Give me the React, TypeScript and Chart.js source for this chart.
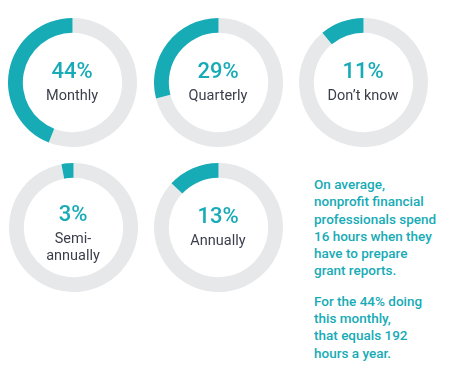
import React, { useEffect, useRef } from "react";
import { Chart, registerables } from "chart.js";

Chart.register(...registerables);

const categories = ["Monthly", "Quarterly", "Don\u2019t know", "Semi-\nannually", "Annually"];
const shares = [44, 29, 11, 3, 13];
const percentLabels = ["44%", "29%", "11%", "3%", "13%"];
const noteParagraphs = [
  ["On average,", "nonprofit financial", "professionals spend", "16 hours when they", "have to prepare", "grant reports."],
  ["For the 44% doing", "this monthly,", "that equals 192", "hours a year."],
];

const TEAL = "#17abb6";
const GRAY = "#e7e8ea";
const LABEL = "#3a3f4b";

const centers = [
  [72, 82],
  [218, 82],
  [363, 82],
  [73, 227],
  [218, 227],
];
const SIZE = 129;

function Donut({ idx }: { idx: number }) {
  const ref = useRef<HTMLCanvasElement | null>(null);
  useEffect(() => {
    if (!ref.current) return;
    const v = shares[idx];
    const chart = new Chart(ref.current, {
      type: "doughnut",
      data: {
        labels: ["Other", categories[idx]],
        datasets: [
          {
            data: [100 - v, v],
            backgroundColor: [GRAY, TEAL],
            borderWidth: 0,
            hoverOffset: 0,
          },
        ],
      },
      options: {
        responsive: false,
        animation: false,
        cutout: "77%",
        layout: { padding: 0 },
        plugins: { legend: { display: false }, tooltip: { enabled: false } },
        events: [],
      },
    });
    return () => chart.destroy();
  }, [idx]);
  const [cx, cy] = centers[idx];
  const lines = categories[idx].split("\n");
  return (
    <>
      <canvas
        ref={ref}
        width={SIZE}
        height={SIZE}
        style={{ position: "absolute", left: cx - SIZE / 2, top: cy - SIZE / 2, width: SIZE, height: SIZE }}
      />
      <div
        style={{
          position: "absolute",
          left: cx - 60,
          top: cy - 24 - (lines.length > 1 ? 2 : 0),
          width: 120,
          textAlign: "center",
          fontFamily: "Roboto, sans-serif",
        }}
      >
        <div style={{ fontSize: 22, fontWeight: 500, lineHeight: "26px", color: TEAL }}>{percentLabels[idx]}</div>
        <div style={{ marginTop: 3, fontSize: 14.5, fontWeight: 400, lineHeight: "17px", color: LABEL }}>
          {lines.map((l, i) => (
            <div key={i}>{l}</div>
          ))}
        </div>
      </div>
    </>
  );
}

export default function App() {
  return (
    <div style={{ position: "absolute", left: 0, top: 0, width: 459, height: 368, background: "#fff", overflow: "hidden" }}>
      {shares.map((_, i) => (
        <Donut key={i} idx={i} />
      ))}
      <div
        style={{
          position: "absolute",
          left: 314,
          top: 176,
          width: 145,
          fontFamily: "Roboto, sans-serif",
          fontWeight: 500,
          fontSize: 13.5,
          lineHeight: "17.3px",
          color: TEAL,
        }}
      >
        {noteParagraphs.map((p, pi) => (
          <div key={pi} style={{ marginTop: pi === 0 ? 0 : 13 }}>
            {p.map((l, li) => (
              <div key={li} style={{ whiteSpace: "nowrap" }}>{l}</div>
            ))}
          </div>
        ))}
      </div>
    </div>
  );
}
